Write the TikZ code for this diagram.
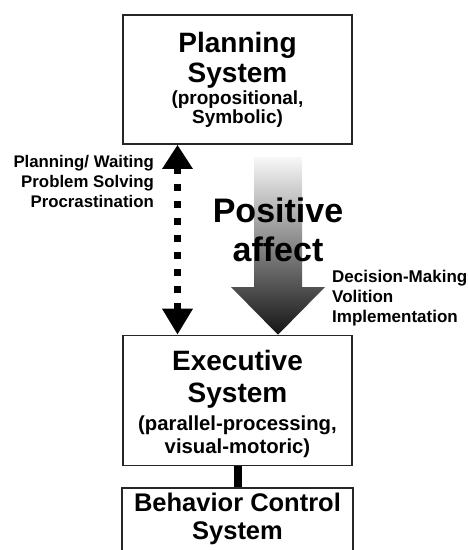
\documentclass[tikz,border=0pt]{standalone}
\usepackage{fontspec}
\setmainfont{Liberation Sans}
\usetikzlibrary{arrows.meta,calc}
\newcommand\sysTitleFont{\fontsize{28}{30}\selectfont}
\begin{document}
\begin{tikzpicture}[x=1pt,y=-1pt,
  sysbox/.style={draw=black!85, line width=1.6pt, minimum width=229pt, inner sep=0pt,
    align=center, font=\bfseries\fontsize{19}{30}\selectfont},
  sidelab/.style={inner sep=0pt, font=\bfseries\fontsize{16.8}{20}\selectfont},
  biglab/.style={inner sep=0pt, align=center, font=\bfseries\fontsize{34}{39}\selectfont},
  dasharrow/.style={line width=7pt, dash pattern=on 7pt off 10pt,
    {Triangle[length=24pt,width=29pt]}-{Triangle[length=26pt,width=29pt]}},
  link/.style={line width=8pt}
]
\useasboundingbox (0,0) rectangle (468,550);

% boxes
\node[sysbox, minimum height=129pt] (plan) at (237.5,79.5)
  {{\sysTitleFont Planning}\\{\sysTitleFont System}\\[-8pt](propositional,\\[-11pt]Symbolic)};
\node[sysbox, minimum height=130pt, font=\bfseries\fontsize{20.3}{30}\selectfont] (exec) at (237.5,400.5)
  {\rule{0pt}{26.3pt}{\sysTitleFont Executive}\\[2pt]{\sysTitleFont System}\\[-2pt](parallel-processing,\\[-7pt]visual-motoric)};
\node[sysbox, minimum width=231pt, minimum height=72.8pt, font=\bfseries\fontsize{25.5}{28}\selectfont] (beh) at (237.5,524.4)
  {Behavior Control\\System\rule[-15.4pt]{0pt}{15.4pt}};

% gradient block arrow (positive affect)
\coordinate (ax) at (278,0);
\shade[top color=black!3, middle color=black!33, bottom color=black!92]
  (254,157) -- (302,157) -- (302,287) -- (325,287) -- (exec.north -| ax)
  -- (231,287) -- (254,287) -- cycle;
\node[biglab] (pa) at (278,230) {Positive\\affect};

% dashed double arrow
\coordinate (dx) at (177.5,0);
\draw[dasharrow] (plan.south -| dx) -- (exec.north -| dx);

% connector executive -> behavior
\draw[link] (exec.south) -- (beh.north);

% side labels
\node[sidelab, anchor=east, align=right] (pw) at (154,181)
  {Planning/ Waiting\\Problem Solving\\Procrastination};
\node[sidelab, anchor=west, align=left, font=\bfseries\fontsize{17}{20}\selectfont] (dm) at (332,298)
  {Decision-Making\\Volition\\Implementation};
\end{tikzpicture}
\end{document}
